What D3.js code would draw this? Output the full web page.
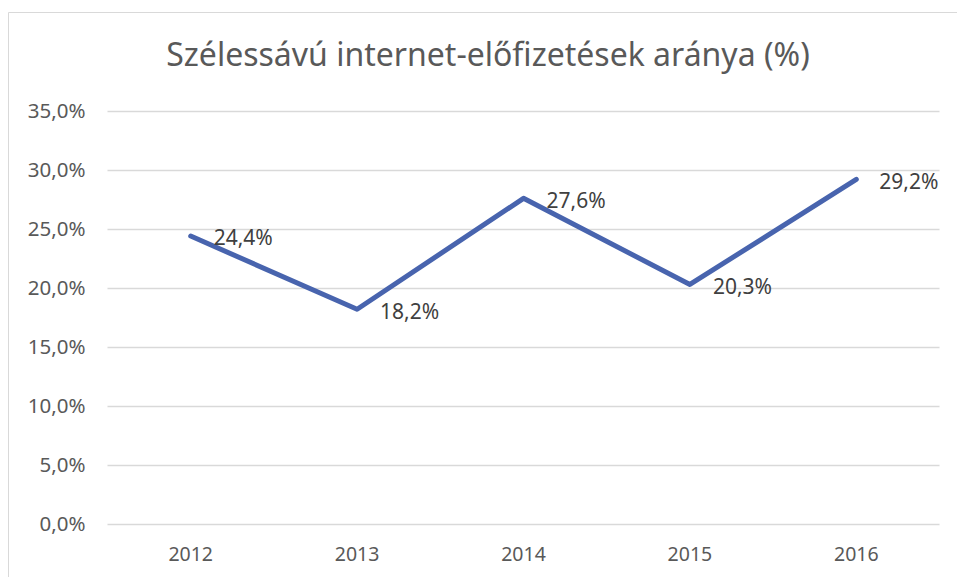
<!DOCTYPE html>
<html>
<head>
<meta charset="utf-8">
<script src="https://cdn.jsdelivr.net/npm/d3@7"></script>
<style>
  html, body { margin: 0; padding: 0; background: #fff; }
  svg { display: block; }
</style>
</head>
<body>
<script>
// Broadband internet subscription share per year
const years = ["2012", "2013", "2014", "2015", "2016"];
const shares = [24.4, 18.2, 27.6, 20.3, 29.2];
const yTicks = [0, 5, 10, 15, 20, 25, 30, 35];
const title = "Szélessávú internet-előfizetések aránya (%)";

const W = 957, H = 577;
const margin = { left: 107.5, right: 17.5, top: 111, bottom: 53 };
const fontFamily = "'Noto Sans', 'Open Sans', sans-serif";

const svg = d3.select("body").append("svg")
  .attr("width", W).attr("height", H);

// chart frame
svg.append("path")
  .attr("d", `M8.5,${H} L8.5,12.5 L${W},12.5`)
  .attr("fill", "none")
  .attr("stroke", "#d9d9d9")
  .attr("stroke-width", 1);

const x = d3.scaleBand()
  .domain(years)
  .range([margin.left, W - margin.right]);

const y = d3.scaleLinear()
  .domain([0, 35])
  .range([H - margin.bottom, margin.top]);

const fmt = v => d3.format(".1f")(v).replace(".", ",") + "%";

// gridlines
svg.append("g")
  .selectAll("line")
  .data(yTicks)
  .join("line")
  .attr("x1", margin.left)
  .attr("x2", W - margin.right)
  .attr("y1", d => Math.round(y(d)) + 0.5)
  .attr("y2", d => Math.round(y(d)) + 0.5)
  .attr("stroke", "#d9d9d9")
  .attr("stroke-width", 1.5);

// y axis labels
const yAxis = d3.axisLeft(y).tickValues(yTicks).tickFormat(fmt).tickSize(0).tickPadding(22);
const gy = svg.append("g")
  .attr("transform", `translate(${margin.left},0)`)
  .call(yAxis);
gy.select(".domain").remove();
gy.selectAll("text")
  .attr("fill", "#595959")
  .style("font-family", fontFamily)
  .style("font-size", "20.5px");

// x axis labels
const xAxis = d3.axisBottom(x).tickSize(0).tickPadding(23);
const gx = svg.append("g")
  .attr("transform", `translate(0,${H - margin.bottom})`)
  .call(xAxis);
gx.select(".domain").remove();
gx.selectAll("text")
  .attr("fill", "#595959")
  .style("font-family", fontFamily)
  .style("font-size", "19.5px");

// title
svg.append("text")
  .attr("x", 488)
  .attr("y", 66)
  .attr("text-anchor", "middle")
  .attr("fill", "#595959")
  .style("font-family", fontFamily)
  .style("font-size", "32px")
  .text(title);

// series line
const pts = years.map((yr, i) => ({ yr, v: shares[i] }));
const line = d3.line()
  .x(d => x(d.yr) + x.bandwidth() / 2)
  .y(d => y(d.v));

svg.append("path")
  .datum(pts)
  .attr("d", line)
  .attr("fill", "none")
  .attr("stroke", "#4864ae")
  .attr("stroke-width", 5)
  .attr("stroke-linejoin", "round")
  .attr("stroke-linecap", "round");

// data labels
svg.append("g")
  .selectAll("text")
  .data(pts)
  .join("text")
  .attr("x", d => x(d.yr) + x.bandwidth() / 2 + 23)
  .attr("y", d => y(d.v) + 2)
  .attr("dy", "0.35em")
  .attr("fill", "#404040")
  .style("font-family", fontFamily)
  .style("font-size", "21px")
  .text(d => fmt(d.v));
</script>
</body>
</html>
